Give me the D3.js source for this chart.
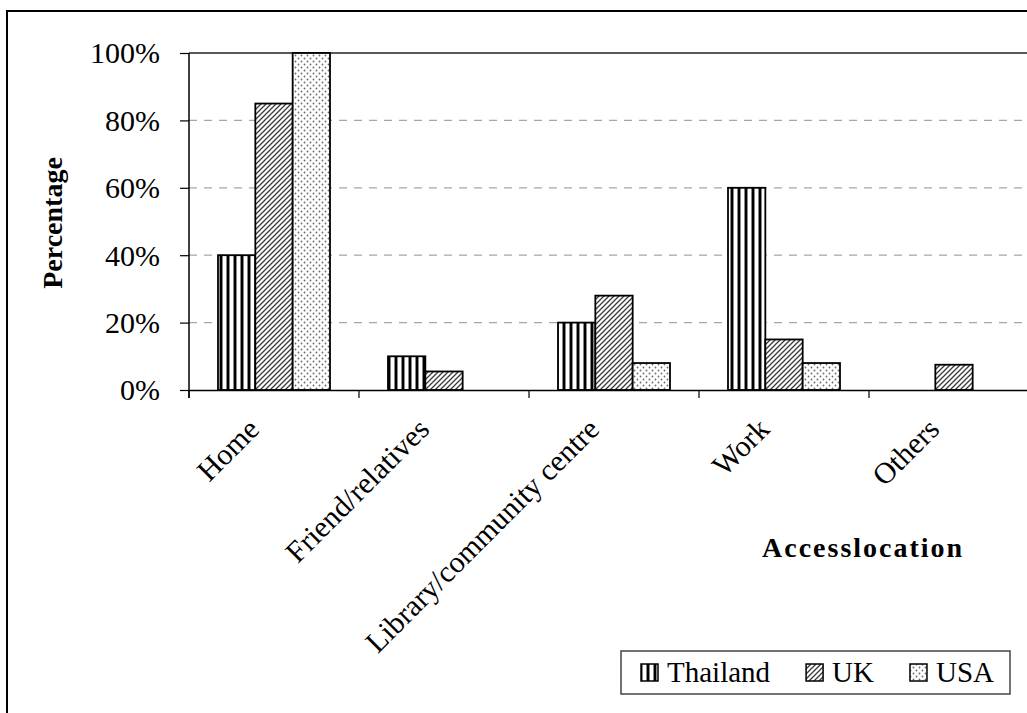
<!DOCTYPE html>
<html>
<head>
<meta charset="utf-8">
<script src="https://cdn.jsdelivr.net/npm/d3@7"></script>
<style>
  html, body { margin: 0; padding: 0; background: #fff; overflow: hidden; }
  svg text { font-family: 'Liberation Serif', 'Times New Roman', Times, serif !important; }
</style>
</head>
<body>
<svg id="chart" width="1027" height="713"></svg>
<script>
// Internet access location by country (share of respondents)
const categories = ["Home", "Friend/relatives", "Library/community centre", "Work", "Others"];
const seriesNames = ["Thailand", "UK", "USA"];
const thailand = [40, 10, 20, 60, null];
const uk = [85, 5.5, 28, 15, 7.5];
const usa = [100, null, 8, 8, null];
const yTicks = [0, 20, 40, 60, 80, 100];
const yTitle = "Percentage";
const xTitle = "Accesslocation";

const seriesValues = [thailand, uk, usa];
const serif = "'Liberation Serif', 'Times New Roman', Times, serif";

const svg = d3.select("#chart").attr("font-family", serif);

// hatch fills for the three series
const defs = svg.append("defs");

const pv = defs.append("pattern").attr("id", "pat-thailand")
  .attr("patternUnits", "userSpaceOnUse").attr("width", 7).attr("height", 7);
pv.append("rect").attr("width", 7).attr("height", 7).attr("fill", "#fff");
pv.append("rect").attr("x", 2).attr("width", 1).attr("height", 7).attr("fill", "#888");
pv.append("rect").attr("x", 3).attr("width", 2).attr("height", 7).attr("fill", "#000");
pv.append("rect").attr("x", 5).attr("width", 1).attr("height", 7).attr("fill", "#888");

const pd = defs.append("pattern").attr("id", "pat-uk")
  .attr("patternUnits", "userSpaceOnUse").attr("width", 5).attr("height", 5);
pd.append("rect").attr("width", 5).attr("height", 5).attr("fill", "#fff");
pd.append("path").attr("d", "M-1,6 L6,-1 M-2,2 L2,-2 M3,7 L7,3")
  .attr("stroke", "#3a3a3a").attr("stroke-width", 1.3);

const pdot = defs.append("pattern").attr("id", "pat-usa")
  .attr("patternUnits", "userSpaceOnUse").attr("width", 6).attr("height", 6);
pdot.append("rect").attr("width", 6).attr("height", 6).attr("fill", "#fff");
pdot.append("circle").attr("cx", 1.5).attr("cy", 1.5).attr("r", 0.9).attr("fill", "#6a6a6a");
pdot.append("circle").attr("cx", 4.5).attr("cy", 4.5).attr("r", 0.9).attr("fill", "#6a6a6a");

const fills = ["url(#pat-thailand)", "url(#pat-uk)", "url(#pat-usa)"];

// outer chart frame (continues past the visible edge)
svg.append("rect")
  .attr("x", 7).attr("y", 11).attr("width", 1200).attr("height", 900)
  .attr("fill", "none").attr("stroke", "#000").attr("stroke-width", 2);

// plot area
const plotLeft = 189, plotTop = 53, plotBottom = 390;
const bandW = 170;
const x = d3.scaleBand()
  .domain(categories)
  .range([plotLeft, plotLeft + bandW * categories.length])
  .paddingInner(0).paddingOuter(0);
const gap = 29;
const xs = d3.scaleBand()
  .domain(seriesNames)
  .range([gap, x.bandwidth() - gap])
  .padding(0);
const y = d3.scaleLinear().domain([0, 100]).range([plotBottom, plotTop]);

// gridlines
svg.append("g").selectAll("line")
  .data(yTicks.filter(t => t > 0 && t < 100))
  .join("line")
  .attr("x1", plotLeft).attr("x2", x.range()[1])
  .attr("y1", d => y(d)).attr("y2", d => y(d))
  .attr("stroke", "#a6a6a6").attr("stroke-width", 1.2)
  .attr("stroke-dasharray", "8,7");

svg.append("line")
  .attr("x1", plotLeft).attr("x2", x.range()[1])
  .attr("y1", y(100)).attr("y2", y(100))
  .attr("stroke", "#222").attr("stroke-width", 1.6);

// bars
const barData = [];
categories.forEach((c, i) => {
  seriesNames.forEach((s, j) => {
    const v = seriesValues[j][i];
    if (v !== null && v !== undefined) barData.push({ c, s, v, j });
  });
});

svg.append("g").selectAll("rect")
  .data(barData)
  .join("rect")
  .attr("x", d => x(d.c) + xs(d.s))
  .attr("y", d => y(d.v))
  .attr("width", xs.bandwidth())
  .attr("height", d => y(0) - y(d.v))
  .attr("fill", d => fills[d.j])
  .attr("stroke", "#000").attr("stroke-width", 1.8);

// y axis
const yAxis = d3.axisLeft(y).tickValues(yTicks).tickFormat(d => d + "%")
  .tickSizeInner(9).tickSizeOuter(0).tickPadding(20);
const gy = svg.append("g").attr("transform", `translate(${plotLeft},0)`).call(yAxis)
  .attr("font-family", serif).attr("font-size", 30);
gy.select(".domain").attr("stroke", "#000").attr("stroke-width", 1.5)
  .attr("d", `M0,${plotTop}V${plotBottom + 8}`);
gy.selectAll(".tick line").attr("stroke", "#000").attr("stroke-width", 1.2);
gy.selectAll(".tick text").attr("fill", "#000").attr("dy", "0.33em");

// x axis
const xAxis = d3.axisBottom(x).tickSize(0).tickFormat("");
const gx = svg.append("g").attr("transform", `translate(0,${plotBottom})`).call(xAxis);
gx.select(".domain").attr("stroke", "#000").attr("stroke-width", 1.5);
gx.selectAll(".tick").remove();

// category boundary ticks
const bounds = categories.map(c => x(c)).concat([x.range()[1]]);
svg.append("g").selectAll("line")
  .data(bounds)
  .join("line")
  .attr("x1", d => d).attr("x2", d => d)
  .attr("y1", plotBottom).attr("y2", plotBottom + 8)
  .attr("stroke", "#000").attr("stroke-width", 1.2);

// rotated category labels
svg.append("g").selectAll("text")
  .data(categories)
  .join("text")
  .attr("transform", d => `translate(${x(d) + x.bandwidth() / 2 - 13},431) rotate(-45)`)
  .attr("text-anchor", "end")
  .attr("font-size", 30)
  .attr("fill", "#000")
  .text(d => d);

// axis titles
svg.append("text")
  .attr("transform", "translate(62,223) rotate(-90)")
  .attr("text-anchor", "middle")
  .attr("font-size", 28).attr("font-weight", "bold")
  .text(yTitle);

svg.append("text")
  .attr("x", 762).attr("y", 557)
  .attr("font-size", 28).attr("font-weight", "bold")
  .attr("letter-spacing", 2)
  .text(xTitle);

// legend
const legend = svg.append("g");
legend.append("rect")
  .attr("x", 621).attr("y", 651).attr("width", 389).attr("height", 43)
  .attr("fill", "#fff").attr("stroke", "#444").attr("stroke-width", 1.5);

let lx = 641;
seriesNames.forEach((s, j) => {
  legend.append("rect")
    .attr("x", lx).attr("y", 664).attr("width", 17).attr("height", 17)
    .attr("fill", fills[j]).attr("stroke", "#000").attr("stroke-width", 1.5);
  const t = legend.append("text")
    .attr("x", lx + 26).attr("y", 682)
    .attr("font-size", 29).attr("fill", "#000")
    .text(s);
  lx += 26 + t.node().getComputedTextLength() + 36;
});
</script>
</body>
</html>
